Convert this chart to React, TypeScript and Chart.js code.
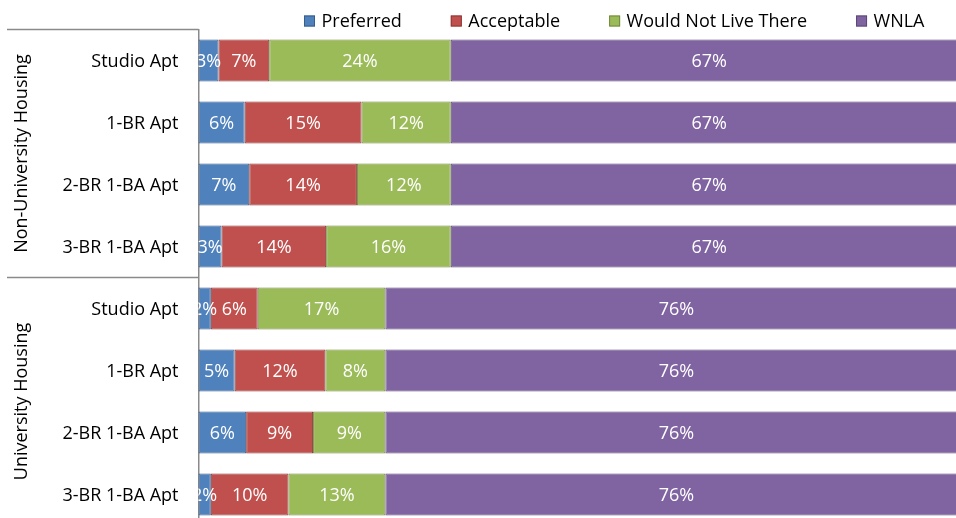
import React, { useEffect, useRef } from "react";
import { Chart, registerables } from "chart.js";

Chart.register(...registerables);

const categories = [
  "Studio Apt",
  "1-BR Apt",
  "2-BR 1-BA Apt",
  "3-BR 1-BA Apt",
  "Studio Apt",
  "1-BR Apt",
  "2-BR 1-BA Apt",
  "3-BR 1-BA Apt",
];
const groups = ["Non-University Housing", "University Housing"];
const groupSizes = [4, 4];

const seriesNames = ["Preferred", "Acceptable", "Would Not Live There", "WNLA"];
const preferred = [2.6, 6.0, 6.6, 3.0, 1.6, 4.7, 6.2, 1.6];
const acceptable = [6.6, 15.2, 14.0, 13.6, 6.1, 11.8, 8.7, 10.1];
const wouldNotLiveThere = [23.6, 11.6, 12.2, 16.2, 16.6, 7.8, 9.4, 12.6];
const wnla = [67.2, 67.2, 67.2, 67.2, 75.7, 75.7, 75.7, 75.7];

const fills = ["#4F81BD", "#C0504D", "#9BBB59", "#8064A2"];
const borders = ["#385D8A", "#8C3836", "#71893F", "#5C4776"];

const FONT = "'Open Sans', 'Noto Sans', sans-serif";
const LINE = "#8a8a8a";

const dataLabels = {
  id: "dataLabels",
  afterDatasetsDraw(chart: any) {
    const { ctx, chartArea } = chart;
    ctx.save();
    ctx.beginPath();
    ctx.rect(chartArea.left, chartArea.top, chartArea.right - chartArea.left, chartArea.bottom - chartArea.top);
    ctx.clip();
    ctx.fillStyle = "#ffffff";
    ctx.font = `18px ${FONT}`;
    ctx.textAlign = "center";
    ctx.textBaseline = "middle";
    chart.data.datasets.forEach((ds: any, di: number) => {
      const meta = chart.getDatasetMeta(di);
      meta.data.forEach((bar: any, i: number) => {
        const v = ds.data[i];
        const cx = (bar.x + bar.base) / 2;
        ctx.fillText(Math.round(v) + "%", cx, bar.y + 1);
      });
    });
    ctx.restore();
  },
};

const decorations = {
  id: "decorations",
  afterDraw(chart: any) {
    const { ctx, chartArea } = chart;
    const y = chart.scales.y;
    ctx.save();
    // legend
    ctx.font = `18px ${FONT}`;
    ctx.textBaseline = "alphabetic";
    ctx.textAlign = "left";
    let x = 304;
    seriesNames.forEach((name, i) => {
      ctx.fillStyle = fills[i];
      ctx.fillRect(x, 15.5, 11, 11);
      ctx.strokeStyle = borders[i];
      ctx.lineWidth = 1;
      ctx.strokeRect(x + 0.5, 16, 10, 10);
      ctx.fillStyle = "#000000";
      ctx.fillText(name, x + 17.5, 26.5);
      x += 17.5 + ctx.measureText(name).width + 49;
    });

    // category labels
    ctx.textAlign = "right";
    ctx.textBaseline = "middle";
    categories.forEach((c, i) => {
      ctx.fillText(c, chartArea.left - 20, y.getPixelForValue(i) + 1);
    });

    // group separator lines and labels
    const half = (y.getPixelForValue(1) - y.getPixelForValue(0)) / 2;
    ctx.strokeStyle = LINE;
    ctx.lineWidth = 1.5;
    let start = 0;
    const bounds: number[] = [y.getPixelForValue(0) - half];
    groupSizes.forEach((n) => {
      start += n;
      bounds.push(y.getPixelForValue(start - 1) + half);
    });
    bounds.forEach((b) => {
      ctx.beginPath();
      ctx.moveTo(7, b);
      ctx.lineTo(chartArea.left, b);
      ctx.stroke();
    });
    ctx.textAlign = "center";
    groups.forEach((g, i) => {
      const cy = (bounds[i] + bounds[i + 1]) / 2;
      ctx.save();
      ctx.translate(22, cy);
      ctx.rotate(-Math.PI / 2);
      ctx.fillText(g, 0, 0);
      ctx.restore();
    });
    ctx.restore();
  },
};

export default function App() {
  const ref = useRef<HTMLCanvasElement | null>(null);
  useEffect(() => {
    if (!ref.current) return;
    const series = [preferred, acceptable, wouldNotLiveThere, wnla];
    const chart = new Chart(ref.current, {
      type: "bar",
      data: {
        labels: categories,
        datasets: series.map((d, i) => ({
          label: seriesNames[i],
          data: d,
          backgroundColor: fills[i],
          borderColor: borders[i],
          borderWidth: 1,
          borderSkipped: false,
          barPercentage: 0.677,
          categoryPercentage: 1,
        })),
      },
      options: {
        indexAxis: "y",
        responsive: true,
        maintainAspectRatio: false,
        animation: false,
        devicePixelRatio: 1,
        layout: { padding: { left: 0, top: 29.5, right: 2.5, bottom: 4.5 } },
        plugins: {
          legend: { display: false },
          tooltip: { enabled: false },
          title: { display: false },
        },
        scales: {
          x: { type: "linear", min: 0, max: 100, stacked: true, display: false },
          y: {
            stacked: true,
            grid: { display: false, drawTicks: false },
            border: { display: true, color: LINE, width: 1.5 },
            ticks: { display: false },
            afterFit(scale: any) {
              scale.width = 198.5;
            },
          },
        },
      },
      plugins: [dataLabels, decorations],
    } as any);
    return () => chart.destroy();
  }, []);
  return (
    <div style={{ position: "fixed", left: 0, top: 0, width: 956, height: 518, overflow: "hidden", background: "#fff" }}>
      <div style={{ position: "relative", width: 970, height: 530 }}>
        <canvas ref={ref} />
      </div>
    </div>
  );
}
